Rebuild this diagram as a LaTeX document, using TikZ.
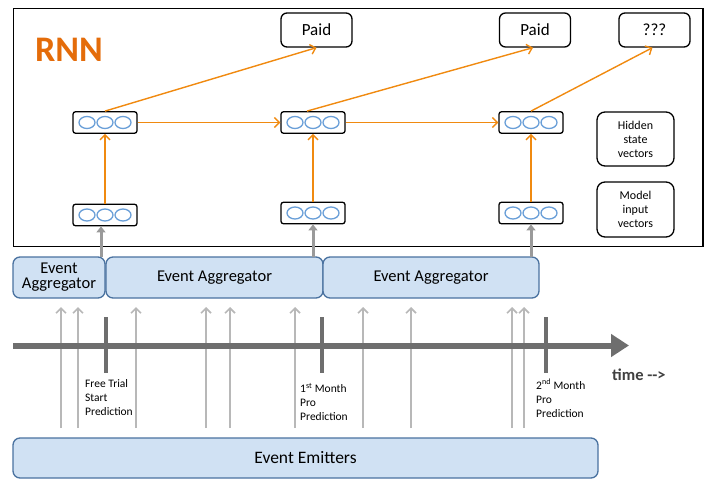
\documentclass[tikz,border=0pt]{standalone}
\usepackage{fontspec}
\setmainfont{Carlito}
\usetikzlibrary{arrows.meta,calc}
\definecolor{rnnorange}{HTML}{E46C0A}
\definecolor{arrorange}{HTML}{F08A10}
\definecolor{vecblue}{HTML}{6A9FD8}
\definecolor{aggfill}{HTML}{D0E1F3}
\definecolor{aggdraw}{HTML}{4A72A0}
\definecolor{axisgray}{HTML}{6E6E6E}
\definecolor{evgray}{HTML}{B8B8B8}
\definecolor{upgray}{HTML}{9A9A9A}
\definecolor{txtgray}{HTML}{404040}
\tikzset{
  vecbox/.style={draw=black, line width=1.3pt, rounded corners=2.5pt, fill=white, minimum width=64pt, minimum height=21.5pt, inner sep=0pt},
  outbox/.style={draw=black, line width=1.3pt, rounded corners=6pt, fill=white, minimum width=71pt, minimum height=34pt, inner sep=0pt, font=\fontsize{17}{17}\selectfont},
  legbox/.style={draw=black, line width=1.3pt, rounded corners=8pt, fill=white, minimum width=77pt, inner sep=0pt, align=center, font=\fontsize{12}{14}\selectfont},
  aggbox/.style={draw=aggdraw, line width=1.3pt, rounded corners=7pt, fill=aggfill, minimum height=41pt, inner sep=0pt, align=center, font=\fontsize{16.5}{17}\selectfont},
  oarr/.style={draw=arrorange, line width=1.4pt, -{Straight Barb[length=5pt,width=10pt]}},
  garr/.style={draw=upgray, line width=3pt, -{Triangle[length=6pt,width=9pt]}},
  earr/.style={draw=evgray, line width=1.6pt, -{Straight Barb[length=5pt,width=10pt]}},
  tickbar/.style={draw=axisgray, line width=4pt},
  lbl/.style={anchor=north west, align=left, inner sep=0pt, font=\fontsize{11.5}{14}\selectfont},
}
\begin{document}
\begin{tikzpicture}[x=1pt,y=-1pt]
\useasboundingbox (0,0) rectangle (711,492);
% RNN frame
\draw[line width=1.5pt] (13.5,8.5) rectangle (703,246.5);
\node[anchor=west, text=rnnorange, inner sep=0pt, font=\fontsize{36}{36}\selectfont\bfseries] (rnn) at (35,50) {RNN};
% output boxes
\node[outbox] (p1) at (316.5,30) {Paid};
\node[outbox] (p2) at (535,30) {Paid};
\node[outbox] (p3) at (654.5,30) {???};
% vectors
\foreach \n/\x/\y in {h1/105/122.5, h2/313/122.5, h3/531/122.5, i1/105/215, i2/313/213, i3/531/213}{
  \node[vecbox] (\n) at (\x,\y) {};
  \foreach \dx in {-18,0,18}{
    \draw[vecblue, line width=1.3pt] ($(\n.center)+(\dx,0)$) ellipse (8 and 6);
  }
}
% legends
\node[legbox, minimum height=54pt] (lh) at (635.5,139) {Hidden\\state\\vectors};
\node[legbox, minimum height=55pt] (li) at (635.5,209.5) {Model\\input\\vectors};
% orange arrows
\draw[oarr] (h1.north) -- (p1.south);
\draw[oarr] ([xshift=-6pt]h2.north) -- ([xshift=-2pt]p2.south);
\draw[oarr] (h3.north) -- ([xshift=-2pt]p3.south);
\draw[oarr] (h1.east) -- (h2.west);
\draw[oarr] (h2.east) -- (h3.west);
\draw[oarr] (i1.north) -- (h1.south);
\draw[oarr] (i2.north) -- (h2.south);
\draw[oarr] (i3.north) -- (h3.south);
% aggregators
\node[aggbox, minimum width=92pt] (a1) at (59,277.5) {Event\\[-2pt]Aggregator};
\node[aggbox, minimum width=217pt] (a2) at (214.5,277.5) {Event Aggregator};
\node[aggbox, minimum width=216pt] (a3) at (431,277.5) {Event Aggregator};
% gray up arrows
\coordinate (g1) at (101,257);
\coordinate (g2) at (313,257);
\coordinate (g3) at (531,257);
\draw[garr] (g1) -- (g1 |- i1.south);
\draw[garr] (g2) -- (i2.south);
\draw[garr] (g3) -- (i3.south);
% event emitters
\node[aggbox, minimum width=585pt, minimum height=40pt, font=\fontsize{17.5}{18}\selectfont] (ee) at (305.5,458) {Event Emitters};
% event arrows
\foreach \x in {61,78,136,206,230,295,363,411,512,524}{
  \coordinate (eb\x) at (\x,428);
  \coordinate (et\x) at (\x,307);
  \draw[earr] (eb\x) -- (et\x);
}
% timeline
\coordinate (ts) at (13,345.5);
\coordinate (te) at (629,345.5);
\draw[draw=axisgray, line width=6pt, -{Triangle[length=18pt,width=22pt]}] (ts) -- (te);
% ticks
\foreach \x in {106,322,546}{
  \coordinate (tt\x) at (\x,317);
  \coordinate (tb\x) at (\x,373);
  \draw[tickbar] (tt\x) -- (tb\x);
}
\node[lbl] (l1) at (85,379) {Free Trial\\Start\\Prediction};
\node[lbl] (l2) at (300,383) {1\textsuperscript{st} Month\\Pro\\Prediction};
\node[lbl] (l3) at (536,379) {2\textsuperscript{nd} Month\\Pro\\Prediction};
\node[anchor=west, inner sep=0pt, text=txtgray, font=\fontsize{16.5}{16.5}\selectfont\bfseries] (time) at (612,375) {time -{}-{}>};
\end{tikzpicture}
\end{document}
